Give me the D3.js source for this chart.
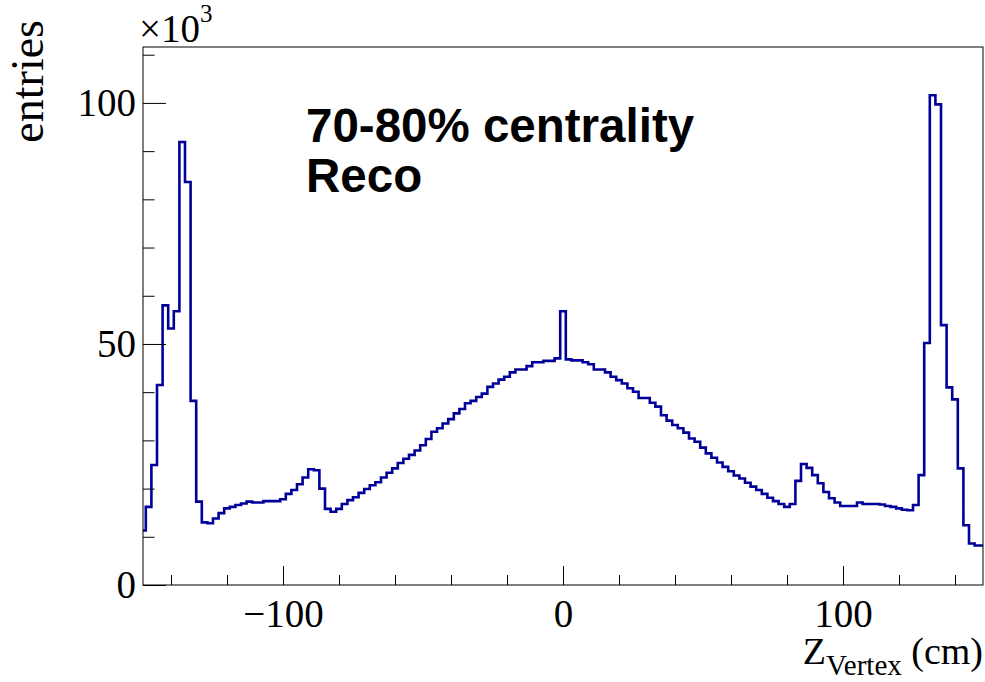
<!DOCTYPE html>
<html>
<head>
<meta charset="utf-8">
<script src="https://cdn.jsdelivr.net/npm/d3@7/dist/d3.min.js"></script>
<style>
  body { margin: 0; background: #fff; }
  svg { display: block; }
</style>
</head>
<body>
<svg id="chart" width="985" height="682"></svg>
<script>
// bin centers, 2 cm bins
const binCenters = d3.range(-150, 151, 2);
// entries per bin, in units of 10^3
const entries = [
  11.3, 16.2, 24.9, 41.5, 58.0, 53.2, 56.8, 91.9, 83.6, 38.2,
  17.3, 13.0, 12.8, 13.8, 14.9, 15.9, 16.2, 16.6, 16.9, 17.3,
  17.1, 17.1, 17.4, 17.4, 17.4, 17.8, 18.9, 19.7, 20.9, 22.3,
  24.0, 23.8, 20.0, 15.8, 15.2, 15.8, 16.8, 17.6, 18.2, 19.1,
  19.9, 20.7, 21.3, 22.3, 23.3, 24.2, 25.3, 26.2, 27.0, 27.9,
  29.0, 30.3, 31.8, 32.5, 33.5, 34.4, 35.6, 36.5, 37.7, 38.2,
  39.0, 39.7, 41.1, 41.8, 42.6, 43.2, 44.1, 44.7, 44.7, 45.4,
  46.2, 46.2, 46.5, 46.5, 47.0, 56.8, 46.8, 46.6, 46.6, 46.2,
  45.8, 44.7, 44.7, 44.1, 43.2, 42.5, 41.8, 40.8, 40.1, 38.8,
  38.8, 37.8, 37.0, 35.2, 34.1, 33.2, 32.5, 31.6, 30.4, 29.7,
  28.5, 27.3, 26.4, 25.4, 24.5, 23.6, 22.7, 22.1, 21.2, 20.4,
  19.7, 18.9, 18.1, 17.4, 16.8, 16.2, 16.8, 21.6, 25.1, 24.3,
  22.8, 21.1, 19.3, 18.0, 17.1, 16.4, 16.4, 16.4, 17.1, 16.8,
  16.8, 16.8, 16.7, 16.4, 16.2, 15.9, 15.6, 15.5, 16.6, 22.8,
  50.2, 101.6, 99.7, 53.9, 41.0, 38.5, 24.2, 12.4, 8.6, 8.2,
  8.2
];
const binWidth = 2;

const xMajor = [-100, 0, 100];
const xMinor = [-140, -120, -80, -60, -40, -20, 20, 40, 60, 80, 120, 140];
const yMajor = [0, 50, 100];
const yMinor = [10, 20, 30, 40, 60, 70, 80, 90, 110];

const xDomain = [-150, 150];
const yDomain = [0, 111.6];

const fr = { left: 143, right: 983, top: 47, bottom: 585 };
const serif = "'Liberation Serif', 'Times New Roman', serif";
const sans = "'Liberation Sans', Arial, sans-serif";
const lineColor = "#000099";

const svg = d3.select("#chart");

const x = d3.scaleLinear().domain(xDomain).range([fr.left, fr.right]);
const y = d3.scaleLinear().domain(yDomain).range([fr.bottom, fr.top]);

svg.append("defs").append("clipPath").attr("id", "frame")
  .append("rect")
  .attr("x", fr.left).attr("y", fr.top)
  .attr("width", fr.right - fr.left).attr("height", fr.bottom - fr.top);

// histogram outline as steps
const pts = [];
binCenters.forEach((c, i) => {
  const lo = Math.max(c - binWidth / 2, xDomain[0]);
  const hi = Math.min(c + binWidth / 2, xDomain[1]);
  pts.push([lo, entries[i]]);
  pts.push([hi, entries[i]]);
});

const line = d3.line()
  .x(d => x(d[0]))
  .y(d => y(d[1]));

svg.append("path")
  .datum(pts)
  .attr("clip-path", "url(#frame)")
  .attr("d", line)
  .attr("fill", "none")
  .attr("stroke", lineColor)
  .attr("stroke-width", 2.6)
  .attr("stroke-linejoin", "miter");

// axes
const fmt = d => d < 0 ? "\u2212" + Math.abs(d) : String(d);

function styleAxis(g) {
  g.select(".domain").remove();
  g.selectAll(".tick line").attr("stroke", "#000").attr("stroke-width", 1);
  g.selectAll("text").attr("font-family", serif).attr("font-size", 39).attr("fill", "#000");
}

svg.append("g")
  .attr("transform", `translate(0,${fr.bottom})`)
  .call(d3.axisBottom(x).tickValues(xMinor).tickSize(-10).tickFormat(""))
  .call(styleAxis);

svg.append("g")
  .attr("transform", `translate(0,${fr.bottom})`)
  .call(d3.axisBottom(x).tickValues(xMajor).tickSize(-19).tickPadding(14).tickFormat(fmt))
  .call(styleAxis);

svg.append("g")
  .attr("transform", `translate(${fr.left},0)`)
  .call(d3.axisLeft(y).tickValues(yMinor).tickSize(-11.5).tickFormat(""))
  .call(styleAxis);

svg.append("g")
  .attr("transform", `translate(${fr.left},0)`)
  .call(d3.axisLeft(y).tickValues(yMajor).tickSize(-23).tickPadding(7).tickFormat(fmt))
  .call(styleAxis);

// frame
svg.append("rect")
  .attr("x", fr.left).attr("y", fr.top)
  .attr("width", fr.right - fr.left).attr("height", fr.bottom - fr.top)
  .attr("fill", "none").attr("stroke", "#000").attr("stroke-width", 1);

// titles
svg.append("text")
  .attr("transform", "translate(43,20) rotate(-90)")
  .attr("text-anchor", "end")
  .attr("font-family", serif).attr("font-size", 46)
  .text("entries");

const mult = svg.append("text")
  .attr("x", 139).attr("y", 42)
  .attr("font-family", serif).attr("font-size", 39);
mult.append("tspan").text("\u00d710");
mult.append("tspan").attr("dy", -20).attr("font-size", 25).text("3");

const xt = svg.append("text")
  .attr("x", fr.right).attr("y", 664)
  .attr("text-anchor", "end")
  .attr("font-family", serif).attr("font-size", 38);
xt.append("tspan").text("Z");
xt.append("tspan").attr("dy", 11).attr("font-size", 29).text("Vertex");
xt.append("tspan").attr("dy", -11).text(" (cm)");

svg.append("text")
  .attr("x", 306).attr("y", 142)
  .attr("font-family", sans).attr("font-weight", "bold").attr("font-size", 47.5)
  .text("70-80% centrality");
svg.append("text")
  .attr("x", 306).attr("y", 192)
  .attr("font-family", sans).attr("font-weight", "bold").attr("font-size", 47.5)
  .text("Reco");
</script>
</body>
</html>
